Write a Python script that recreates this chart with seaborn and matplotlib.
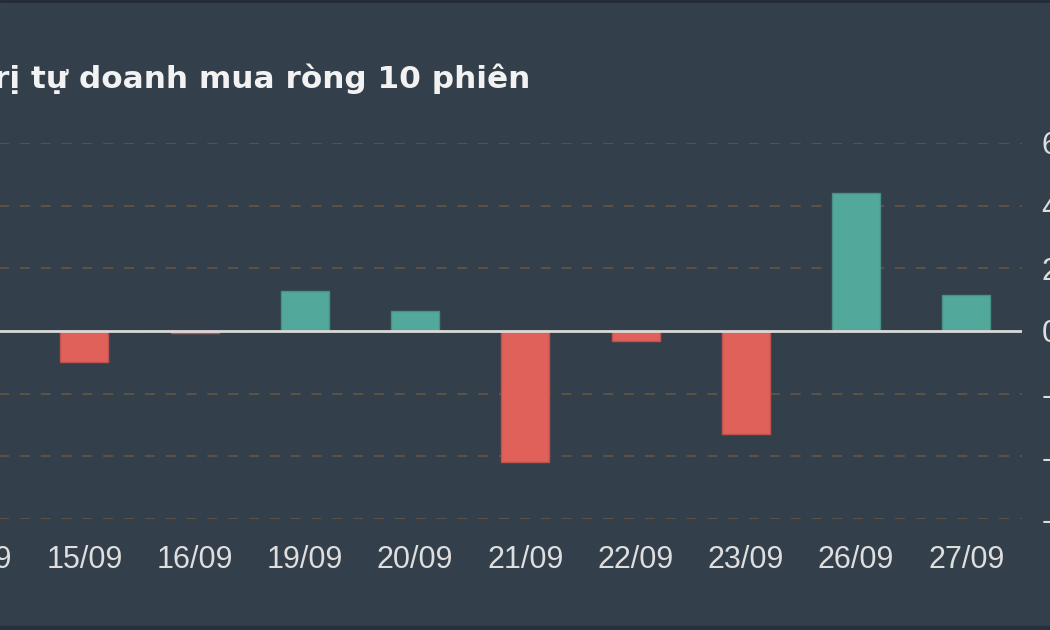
import matplotlib
matplotlib.use("Agg")
import matplotlib.pyplot as plt
import seaborn as sns
import pandas as pd
from matplotlib.lines import Line2D
from matplotlib.colors import to_rgb

# ---- data ----
dates = ["14/09", "15/09", "16/09", "19/09", "20/09", "21/09", "22/09", "23/09", "26/09", "27/09"]
values = [8.0, -9.8, -0.7, 12.9, 6.3, -41.8, -3.1, -32.8, 44.1, 11.5]
yticks = [-60, -40, -20, 0, 20, 40, 60]
title = "Giá trị tự doanh mua ròng 10 phiên"

BG = "#333f4b"
POS = "#52a99b"
NEG = "#e0605a"

sns.set_theme(style="dark")
plt.rcParams["font.family"] = ["Liberation Sans", "DejaVu Sans"]

df = pd.DataFrame({"date": dates, "value": values})
df["sign"] = ["pos" if v >= 0 else "neg" for v in values]

fig = plt.figure(figsize=(10.5, 6.3), dpi=100, facecolor=BG)
W, H = 1050, 630
left_px, right_px = -81, 1021.5
top_px, bot_px = 143, 519
ax = fig.add_axes([left_px / W, (H - bot_px) / H, (right_px - left_px) / W, (bot_px - top_px) / H])
ax.set_facecolor(BG)

sns.barplot(data=df, x="date", y="value", hue="sign", palette={"pos": POS, "neg": NEG},
            dodge=False, width=0.436, legend=False, ax=ax, zorder=3, saturation=1)

for p in ax.patches:
    fc = to_rgb(p.get_facecolor())
    p.set_edgecolor(tuple(c * 0.85 for c in fc))
    p.set_linewidth(1.0)

ax.set_xlim(-0.5, 9.5)
ax.set_ylim(-60, 60)
ax.set_yticks(yticks)
ax.set_yticklabels([str(t) for t in yticks])
ax.yaxis.tick_right()
ax.grid(False)
ax.yaxis.grid(True, color="#5c5147", lw=1.5, ls=(0, (4.8, 5.2)), zorder=1)
ax.axhline(0, color="#d9d9d9", lw=2.0, zorder=4)

for s in ax.spines.values():
    s.set_visible(False)
ax.tick_params(axis="x", length=0, pad=18.5, labelsize=22, colors="#dedede")
ax.tick_params(axis="y", length=0, pad=14.5, labelsize=22, colors="#dedede")
ax.set_xlabel("")
ax.set_ylabel("")

fig.text(530 / W, 1 - 87.5 / H, title, ha="right", va="baseline",
         fontsize=22.4, fontweight="bold", color="#f2f2f2", family=["DejaVu Sans"])

# darker frame lines at top and bottom edges
fig.add_artist(Line2D([0, 1], [1 - 1 / H, 1 - 1 / H], transform=fig.transFigure, color="#242d36", lw=2))
fig.add_artist(Line2D([0, 1], [2 / H, 2 / H], transform=fig.transFigure, color="#27313b", lw=3))

fig.savefig("out.png", dpi=100, facecolor=BG)
